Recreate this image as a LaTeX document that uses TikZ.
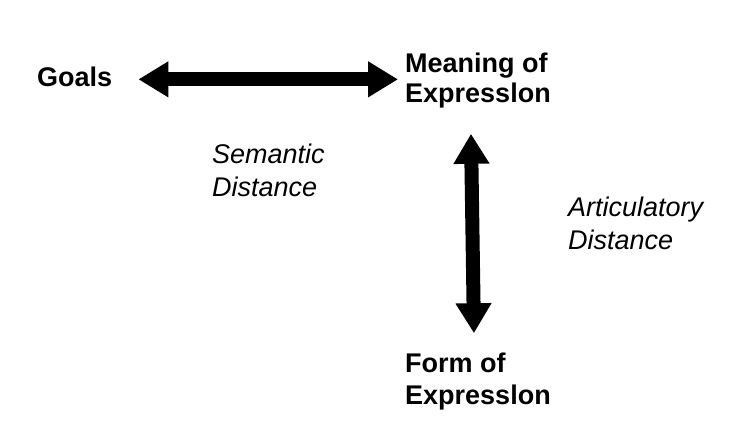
\documentclass[tikz,border=0pt]{standalone}
\usepackage{fontspec}
\setmainfont{Liberation Sans}
\usetikzlibrary{arrows.meta}

\tikzset{
  termbox/.style={inner sep=0pt, align=left, anchor=base west,
    font=\fontsize{27}{32}\selectfont\bfseries},
  disttext/.style={inner sep=0pt, align=left, anchor=base west,
    font=\fontsize{27}{33}\selectfont\itshape},
  bigarrow/.style={line width=14pt,
    {Triangle[length=30pt,width=34pt]}-{Triangle[length=30pt,width=34pt]}}
}

\begin{document}
\begin{tikzpicture}[x=1pt,y=-1pt]
		\useasboundingbox (0,0) rectangle (748,446);
		\node [termbox] (goals) at (37,87) {Goals};
		\node [termbox] (meaning) at (405,103) {Meaning of\\[-2pt]Expresslon};
		\node [termbox] (form) at (405,405) {Form of\\Expresslon};
		\node [disttext] (semantic) at (212,197) {Semantic\\Distance};
		\node [disttext] (articulatory) at (568,250) {Articulatory\\Distance};
		% the two distances
		\draw [bigarrow, shorten <=26pt, shorten >=7pt] ([yshift=-2pt]goals.east) -- ([yshift=-2pt]goals.east -| meaning.west);
		\draw [bigarrow] ([xshift=-7pt,yshift=-25pt]meaning.south) -- ([xshift=-4pt,yshift=20pt]form.north);
\end{tikzpicture}
\end{document}
